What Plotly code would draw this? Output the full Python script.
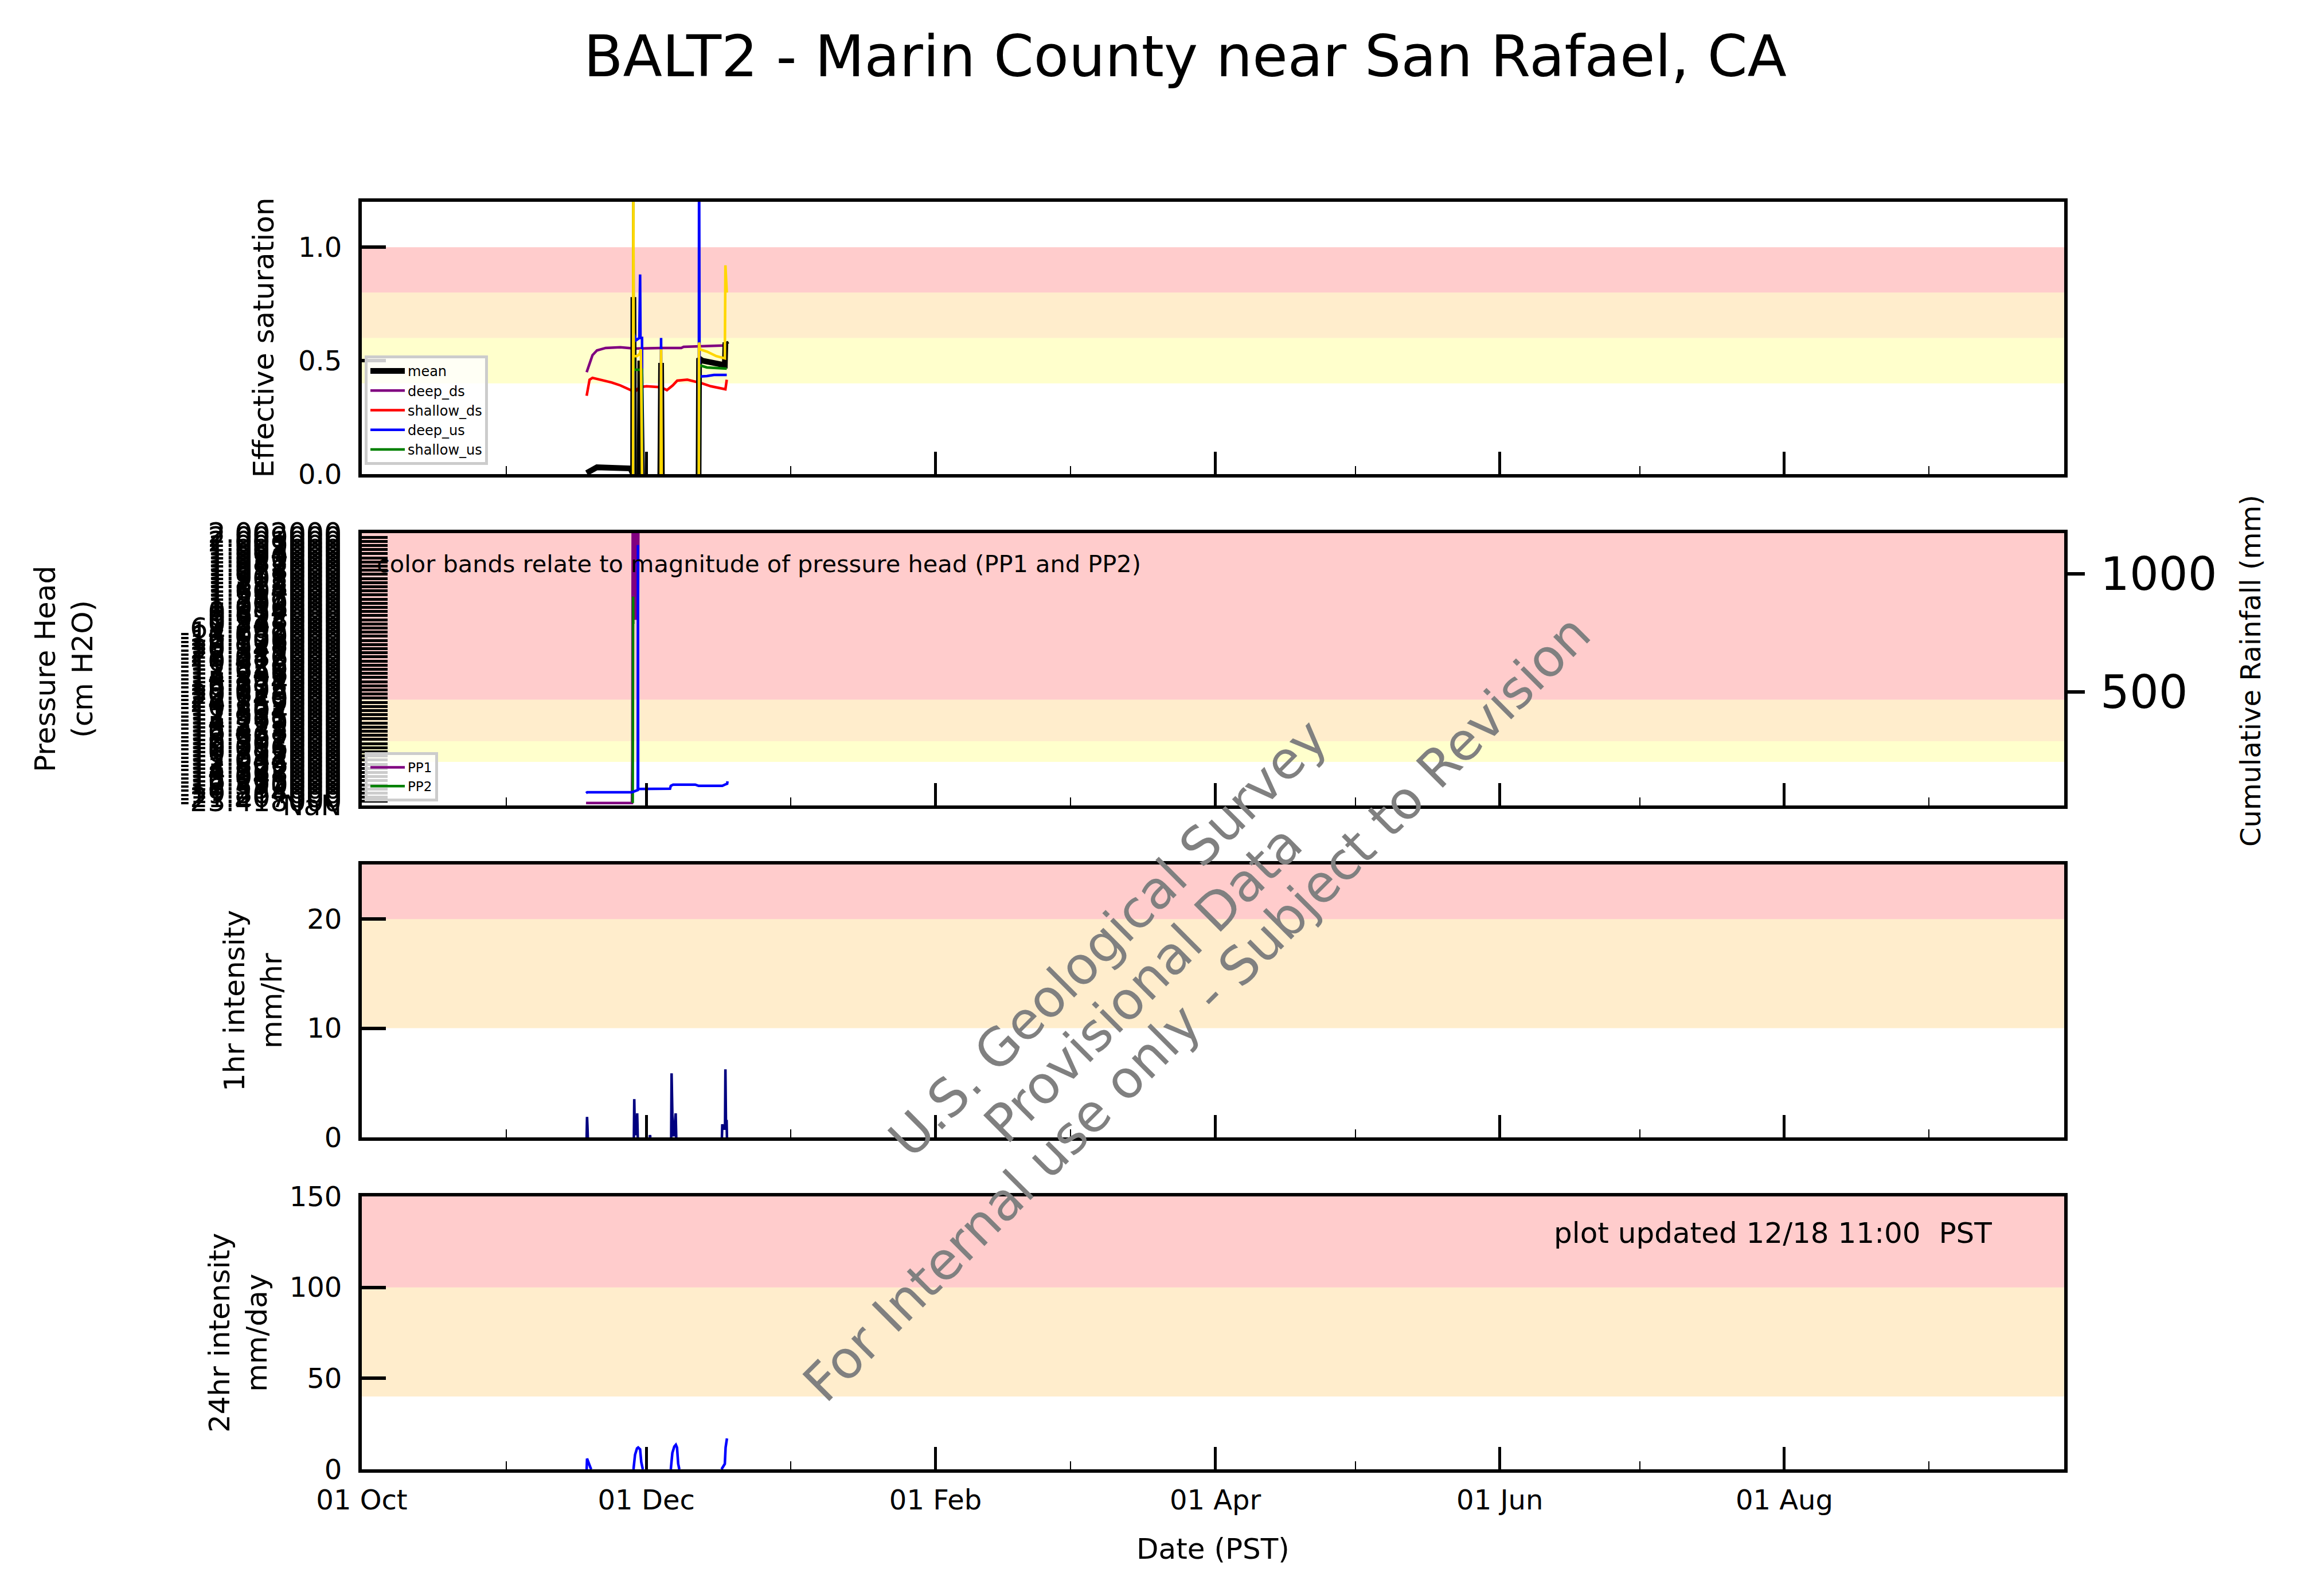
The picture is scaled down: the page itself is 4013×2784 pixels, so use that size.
import plotly.graph_objects as go

W, H = 4013, 2784
OFF = 8  # page offset of the plot div inside the browser page
FONT = "DejaVu Sans"

TITLE = "BALT2 - Marin County near San Rafael, CA"
X_RANGE = ["2023-10-01", "2024-09-30"]

# ---------------- Panel 1 : effective saturation ----------------
MEAN_T = ["2023-11-18 05:00", "2023-11-19 11:00", "2023-11-20 10:00", "2023-11-27 14:00", "2023-11-28 04:00",
          "2023-11-28 05:30", "2023-11-28 09:00", "2023-11-28 10:00", "2023-11-29 14:00", "2023-11-29 17:00",
          "2023-11-30 02:00", "2023-11-30 03:00", "2023-12-04 00:00", "2023-12-04 04:00", "2023-12-04 08:00",
          "2023-12-04 09:00", "2023-12-12 05:00", "2023-12-12 07:30", "2023-12-13 00:00", "2023-12-15 00:00",
          "2023-12-17 20:00", "2023-12-17 23:00", "2023-12-18 06:00"]
MEAN_V = [0.005, 0.02, 0.03, 0.025, 0.0,
          0.78, 0.0, None, 0.0, 0.50,
          0.0, None, 0.0, 0.49, 0.0,
          None, 0.0, 0.51, 0.50, 0.49,
          0.48, 0.58, 0.57]

DEEP_DS_T = ["2023-11-18 05:00", "2023-11-18 20:00", "2023-11-19 11:00", "2023-11-20 10:00", "2023-11-22 07:00",
             "2023-11-25 10:00", "2023-11-28 13:00", "2023-12-04 04:00", "2023-12-08 12:00", "2023-12-09 00:00",
             "2023-12-11 16:00", "2023-12-14 20:00", "2023-12-18 06:00"]
DEEP_DS_V = [0.449, 0.49, 0.524, 0.545, 0.556, 0.559, 0.553, 0.556, 0.556, 0.561, 0.563, 0.566, 0.567]

SHALLOW_DS_T = ["2023-11-18 05:00", "2023-11-18 20:00", "2023-11-19 11:00", "2023-11-21 00:00", "2023-11-23 13:00",
                "2023-11-25 10:00", "2023-11-27 14:00", "2023-11-28 13:00", "2023-11-29 11:30", "2023-12-01 01:00",
                "2023-12-04 04:00", "2023-12-05 10:00", "2023-12-06 16:00", "2023-12-07 15:00", "2023-12-09 19:00",
                "2023-12-11 16:00", "2023-12-12 22:00", "2023-12-14 20:00", "2023-12-17 15:00", "2023-12-17 23:00",
                "2023-12-18 06:00"]
SHALLOW_DS_V = [0.345, 0.416, 0.424, 0.416, 0.404, 0.391, 0.37, 0.362, 0.383, 0.387,
                0.383, 0.37, 0.391, 0.412, 0.416, 0.408, 0.40, 0.387, 0.374, 0.374, 0.416]

DEEP_US_T = ["2023-11-28 05:30", "2023-11-28 07:00", "2023-11-28 20:00", "2023-11-29 12:00", "2023-11-29 16:00",
             "2023-11-29 18:00", "2023-11-30 02:00", "2023-11-30 03:00", "2023-11-30 04:00", "2023-12-04 02:00",
             "2023-12-04 04:00", "2023-12-04 06:00", "2023-12-04 07:00", "2023-12-12 06:00", "2023-12-12 07:30",
             "2023-12-12 10:00", "2023-12-14 00:00", "2023-12-15 12:00", "2023-12-18 06:00"]
DEEP_US_V = [0.0, 0.62, 0.59, 0.60, 0.88,
             0.60, 0.60, 0.0, None, 0.0,
             0.60, 0.0, None, 0.0, 1.50,
             0.43, 0.432, 0.437, 0.437]

SHALLOW_US_T = ["2023-11-28 04:00", "2023-11-28 05:00", "2023-11-28 07:00", "2023-11-29 12:00", "2023-11-30 01:00",
                "2023-11-30 02:00", "2023-11-30 03:00", "2023-12-12 06:00", "2023-12-12 09:00", "2023-12-14 00:00",
                "2023-12-18 06:00"]
SHALLOW_US_V = [0.0, 1.40, 0.46, 0.46, 0.46, 0.0, None, 0.0, 0.48, 0.47, 0.465]

GOLD_T = ["2023-11-28 04:00", "2023-11-28 05:00", "2023-11-28 07:00", "2023-11-29 00:00", "2023-11-29 14:00",
          "2023-11-29 20:00", "2023-11-30 02:00", "2023-11-30 03:00", "2023-12-04 02:00", "2023-12-04 04:00",
          "2023-12-04 07:00", "2023-12-04 08:00", "2023-12-12 06:00", "2023-12-12 07:00", "2023-12-12 12:00",
          "2023-12-14 00:00", "2023-12-16 00:00", "2023-12-17 20:00", "2023-12-17 23:00", "2023-12-18 06:00"]
GOLD_V = [0.0, 1.35, 0.52, 0.52, 0.53,
          0.55, 0.0, None, 0.0, 0.55,
          0.0, None, 0.0, 0.58, 0.55,
          0.54, 0.52, 0.51, 0.92, 0.80]

SAT_TICKS = [0.0, 0.5, 1.0]
SAT_TICK_TEXT = ["0.0", "0.5", "1.0"]
SAT_BANDS = [(0.8, 1.0, "rgba(255,0,0,0.2)"), (0.6, 0.8, "rgba(255,165,0,0.2)"), (0.4, 0.6, "rgba(255,255,0,0.2)")]

# ---------------- Panel 2 : pressure head + cumulative rainfall ----------------
PH_TICK_TEXT = [
    "NaN",
    "-23.418000", "-21.207000", "-19.864000", "-18.552000", "-17.390000", "-16.215000", "-15.047000", "-14.368000",
    "-13.592000", "-12.806000", "-12.044000", "-11.397000", "-10.715000", "-10.086000", "-19.502000", "-18.931000",
    "-17.667000", "-16.428000", "-15.873000", "-14.219000", "-13.965000", "-12.531000", "-11.804000", "-10.362000",
    "-24.159000", "-22.740000", "-20.618000", "-18.095000", "-16.772000", "-15.334000", "-14.801000", "-13.246000",
    "-12.659000", "-11.928000", "-10.473000", "-25.086000", "-22.317000", "-20.945000", "-19.128000", "-17.506000",
    "-16.039000", "-14.682000",
    "61.205000",
    "0.347000", "0.518000", "0.692000", "0.874000", "1.036000", "1.209000", "1.383000", "1.557000", "1.604000",
    "1.728000", "1.815000", "1.902000", "1.937000", "1.958000", "1.971000", "1.983000", "1.990000", "1.994000",
    "1.997000", "1.999000", "2.001000", "2.009000", "2.002000",
]
PH_BANDS = [(25.65, 66.0, "rgba(255,0,0,0.2)"), (15.55, 25.65, "rgba(255,165,0,0.2)"),
            (10.56, 15.55, "rgba(255,255,0,0.2)")]

PP1_T = ["2023-11-18 02:00", "2023-11-27 22:00", "2023-11-28 00:00", "2023-11-28 01:00", "2023-11-28 02:00",
         "2023-11-28 05:00", "2023-11-28 08:00", "2023-11-28 11:00", "2023-11-28 14:00", "2023-11-28 17:00",
         "2023-11-28 20:00", "2023-11-28 23:00", "2023-11-29 02:00", "2023-11-29 05:00", "2023-11-29 07:00"]
PP1_V = [0.6, 0.6, 12.6, 42.0, 67.0, 46.0, 67.0, 45.0, 67.0, 47.0, 67.0, 45.0, 67.0, 46.0, 67.0]

PP2_T = ["2023-11-28 02:00", "2023-11-28 04:00", "2023-11-28 05:00"]
PP2_V = [0.6, 50.6, 44.0]

RAIN_T = ["2023-11-18 02:00", "2023-11-18 08:00", "2023-11-27 22:00", "2023-11-28 14:00", "2023-11-29 04:00",
          "2023-11-29 05:00", "2023-11-29 06:00", "2023-12-06 02:00", "2023-12-06 06:00", "2023-12-06 18:00",
          "2023-12-11 12:00", "2023-12-12 05:00", "2023-12-17 07:00", "2023-12-17 20:00", "2023-12-18 08:00",
          "2023-12-18 10:00"]
RAIN_V = [72, 76, 76, 82, 85, 1122, 90, 91, 103, 108, 108, 103, 103, 108, 112, 122]
RAIN_TICKS = [500, 1000]

# ---------------- Panel 3 : 1-hr intensity ----------------
I1_T = ["2023-11-18 05:00", "2023-11-18 07:00", "2023-11-18 09:00", "2023-11-18 11:00", "2023-11-18 12:00",
        "2023-11-28 08:00", "2023-11-28 10:00", "2023-11-28 13:00", "2023-11-28 23:00", "2023-11-29 01:00",
        "2023-11-29 04:00", "2023-11-29 05:00", "2023-12-01 17:00", "2023-12-01 19:00", "2023-12-01 21:00",
        "2023-12-01 22:00", "2023-12-06 08:00", "2023-12-06 10:00", "2023-12-06 16:00", "2023-12-06 22:00",
        "2023-12-07 07:00", "2023-12-07 10:00", "2023-12-07 11:00", "2023-12-17 05:00", "2023-12-17 07:00",
        "2023-12-17 12:00", "2023-12-17 21:00", "2023-12-17 23:00", "2023-12-18 02:00", "2023-12-18 05:00",
        "2023-12-18 07:00"]
I1_V = [0, 1.87, 1.05, 0, None,
        0, 3.5, 0.3, 0.3, 2.2,
        0, None, 0, 0.2, 0,
        None, 0, 5.87, 0.2, 0.2,
        2.2, 0, None, 0, 1.2,
        0.8, 0.8, 6.23, 1.0, 1.6,
        0]
I1_TICKS = [0, 10, 20]
I1_BANDS = [(20, 25, "rgba(255,0,0,0.2)"), (10, 20, "rgba(255,165,0,0.2)")]

# ---------------- Panel 4 : 24-hr intensity ----------------
I24_T = ["2023-11-18 05:00", "2023-11-18 07:00", "2023-11-19 02:00", "2023-11-19 06:00", "2023-11-19 07:00",
         "2023-11-28 06:00", "2023-11-28 14:00", "2023-11-29 00:00", "2023-11-29 06:00", "2023-11-29 16:00",
         "2023-11-29 22:00", "2023-11-30 06:00", "2023-11-30 07:00", "2023-12-06 06:00", "2023-12-06 14:00",
         "2023-12-07 00:00", "2023-12-07 08:00", "2023-12-07 14:00", "2023-12-07 20:00", "2023-12-08 02:00",
         "2023-12-08 03:00", "2023-12-17 03:00", "2023-12-17 09:00", "2023-12-17 20:00", "2023-12-18 00:00",
         "2023-12-18 07:00"]
I24_V = [0, 5.9, 0.5, 0, None,
         0, 8, 11.5, 12, 11,
         4, 0, None, 0, 9,
         12.5, 13.5, 12, 3, 0,
         None, 0, 1.2, 3, 12,
         17]
I24_TICKS = [0, 50, 100, 150]
I24_BANDS = [(100, 150, "rgba(255,0,0,0.2)"), (40, 100, "rgba(255,165,0,0.2)")]


# ---------------- layout geometry (page pixels -> paper fractions) ----------------
def px(x):
    return (x - OFF) / W


def py(y):
    return 1 - (y - OFF) / H


X_DOM = [px(631), px(3600)]
P1_DOM = [py(827), py(352)]
P2_DOM = [py(1405), py(930)]
P3_DOM = [py(1984), py(1508)]
P4_DOM = [py(2563), py(2087)]

fig = go.Figure()

LW = 4.5
# Panel 1 traces
fig.add_trace(go.Scatter(x=DEEP_DS_T, y=DEEP_DS_V, mode="lines", name="deep_ds", line=dict(color="purple", width=LW),
                         xaxis="x", yaxis="y", legendrank=2, legendgroup="g2"))
fig.add_trace(go.Scatter(x=SHALLOW_DS_T, y=SHALLOW_DS_V, mode="lines", name="shallow_ds",
                         line=dict(color="red", width=LW), xaxis="x", yaxis="y", legendrank=3, legendgroup="g3"))
fig.add_trace(go.Scatter(x=MEAN_T, y=MEAN_V, mode="lines", name="mean", line=dict(color="black", width=10),
                         xaxis="x", yaxis="y", legendrank=1, legendgroup="g1"))
fig.add_trace(go.Scatter(x=DEEP_US_T, y=DEEP_US_V, mode="lines", name="deep_us", line=dict(color="blue", width=LW),
                         xaxis="x", yaxis="y", legendrank=4, legendgroup="g4"))
fig.add_trace(go.Scatter(x=SHALLOW_US_T, y=SHALLOW_US_V, mode="lines", name="shallow_us",
                         line=dict(color="green", width=LW), xaxis="x", yaxis="y", legendrank=5, legendgroup="g5"))
fig.add_trace(go.Scatter(x=GOLD_T, y=GOLD_V, mode="lines", name="", line=dict(color="gold", width=LW),
                         xaxis="x", yaxis="y", showlegend=False))

# Panel 2 traces
fig.add_trace(go.Scatter(x=PP1_T, y=PP1_V, mode="lines", name="PP1", line=dict(color="purple", width=LW),
                         xaxis="x2", yaxis="y2", legend="legend2", legendgroup="p1"))
fig.add_trace(go.Scatter(x=PP2_T, y=PP2_V, mode="lines", name="PP2", line=dict(color="green", width=LW),
                         xaxis="x2", yaxis="y2", legend="legend2", legendgroup="p2"))
fig.add_trace(go.Scatter(x=RAIN_T, y=RAIN_V, mode="lines", name="Cumulative Rainfall",
                         line=dict(color="blue", width=LW), xaxis="x2", yaxis="y5", showlegend=False))

# Panel 3 / 4 traces
fig.add_trace(go.Scatter(x=I1_T, y=I1_V, mode="lines", name="1hr", line=dict(color="navy", width=LW),
                         xaxis="x3", yaxis="y3", showlegend=False))
fig.add_trace(go.Scatter(x=I24_T, y=I24_V, mode="lines", name="24hr", line=dict(color="blue", width=LW),
                         xaxis="x4", yaxis="y4", showlegend=False))

# colour bands
shapes = []
for (lo, hi, col) in SAT_BANDS:
    shapes.append(dict(type="rect", xref="x domain", yref="y", x0=0, x1=1, y0=lo, y1=hi,
                       fillcolor=col, line=dict(width=0), layer="below"))
for (lo, hi, col) in PH_BANDS:
    shapes.append(dict(type="rect", xref="x2 domain", yref="y2", x0=0, x1=1, y0=lo, y1=hi,
                       fillcolor=col, line=dict(width=0), layer="below"))
for (lo, hi, col) in I1_BANDS:
    shapes.append(dict(type="rect", xref="x3 domain", yref="y3", x0=0, x1=1, y0=lo, y1=hi,
                       fillcolor=col, line=dict(width=0), layer="below"))
for (lo, hi, col) in I24_BANDS:
    shapes.append(dict(type="rect", xref="x4 domain", yref="y4", x0=0, x1=1, y0=lo, y1=hi,
                       fillcolor=col, line=dict(width=0), layer="below"))


def xaxis(anchor, labels):
    return dict(domain=X_DOM, anchor=anchor, type="date", range=X_RANGE, autorange=False,
                showline=True, linecolor="black", linewidth=6, mirror=True,
                ticks="inside", ticklen=39, tickwidth=5, tickcolor="black",
                tick0="2023-10-01", dtick="M2", tickformat="%d %b",
                minor=dict(dtick="M1", ticks="inside", ticklen=14, tickwidth=2, tickcolor="black", showgrid=False),
                showgrid=False, zeroline=False, showticklabels=labels, automargin=False,
                tickfont=dict(size=48, color="black", family=FONT), ticklabelstandoff=6)


def yaxis(anchor, dom, rng, vals, text=None, size=48, tlen=42, twidth=6):
    d = dict(domain=dom, anchor=anchor, range=rng, autorange=False,
             showline=True, linecolor="black", linewidth=6, mirror=True,
             ticks="inside", ticklen=tlen, tickwidth=twidth, tickcolor="black",
             tickmode="array", tickvals=vals, showgrid=False, zeroline=False, automargin=False,
             tickfont=dict(size=size, color="black", family=FONT), ticklabelstandoff=19)
    if text is not None:
        d["ticktext"] = text
    return d


ph_vals = list(range(len(PH_TICK_TEXT)))

fig.update_layout(
    width=W, height=H,
    template="none",
    margin=dict(l=0, r=0, t=0, b=0),
    paper_bgcolor="white", plot_bgcolor="white",
    font=dict(family=FONT, color="black"),
    title=dict(text=TITLE, x=px(2067), y=py(98), xanchor="center", yanchor="middle",
               font=dict(size=100, family=FONT, color="black")),
    xaxis=xaxis("y", False),
    xaxis2=xaxis("y2", False),
    xaxis3=xaxis("y3", False),
    xaxis4=xaxis("y4", True),
    yaxis=yaxis("x", P1_DOM, [0, 1.2], SAT_TICKS, SAT_TICK_TEXT),
    yaxis2=yaxis("x2", P2_DOM, [0, len(PH_TICK_TEXT) - 1], ph_vals, PH_TICK_TEXT, size=49, tlen=45, twidth=5),
    yaxis3=yaxis("x3", P3_DOM, [0, 25], I1_TICKS),
    yaxis4=yaxis("x4", P4_DOM, [0, 150], I24_TICKS),
    yaxis5=dict(overlaying="y2", anchor="x2", side="right", range=[20, 1172.5], autorange=False,
                showline=True, linecolor="black", linewidth=6, ticks="outside", ticklen=30, tickwidth=6,
                tickcolor="black", tickmode="array", tickvals=RAIN_TICKS, showgrid=False, zeroline=False,
                automargin=False, tickfont=dict(size=80, color="black", family=FONT), ticklabelstandoff=11),
    shapes=shapes,
    showlegend=True,
    legend=dict(x=px(636), y=py(620), xanchor="left", yanchor="top", bgcolor="rgba(255,255,255,0.8)",
                bordercolor="#cccccc", borderwidth=5, font=dict(size=24, family=FONT, color="black"),
                traceorder="normal", tracegroupgap=6, itemwidth=60),
    legend2=dict(x=px(636), y=py(1312), xanchor="left", yanchor="top", bgcolor="rgba(255,255,255,0.8)",
                 bordercolor="#cccccc", borderwidth=5, font=dict(size=23, family=FONT, color="black"),
                 traceorder="normal", tracegroupgap=6, itemwidth=60),
)

ann = []


def txt(text, x, y, size, angle=0, xanchor="center", color="black"):
    ann.append(dict(text=text, x=px(x), y=py(y), xref="paper", yref="paper", showarrow=False,
                    textangle=angle, xanchor=xanchor, yanchor="middle",
                    font=dict(size=size, family=FONT, color=color)))


txt("Effective saturation", 459, 589.5, 50, -90)
txt("Pressure Head<br>(cm H2O)", 112, 1167, 50, -90)
txt("1hr intensity<br>mm/hr", 441, 1746, 50, -90)
txt("24hr intensity<br>mm/day", 415, 2325, 50, -90)
txt("Cumulative Rainfall (mm)", 3925, 1170, 48, -90)
txt("Date (PST)", 2115, 2702, 50)
txt("color bands relate to magnitude of pressure head (PP1 and PP2)", 655, 983, 41.5, 0, "left")
txt("plot updated 12/18 11:00\u00a0 PST", 3092, 2151, 50)
txt("U.S. Geological Survey", 1932, 1636, 91, -45, color="#808080")
txt("Provisional Data", 1993, 1716, 91, -45, color="#808080")
txt("For Internal use only - Subject to Revision", 2087, 1758, 91, -45, color="#808080")

fig.update_layout(annotations=ann)

fig.write_html("out.html")
